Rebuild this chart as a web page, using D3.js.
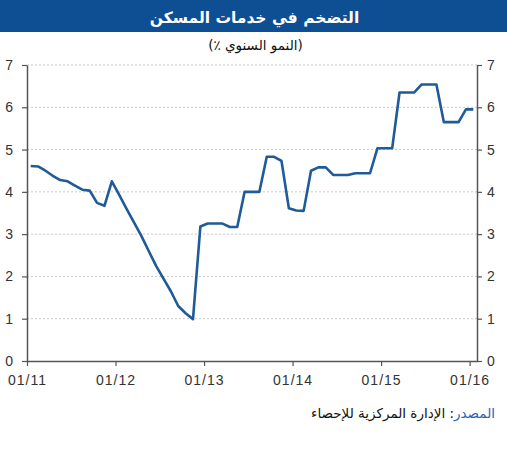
<!DOCTYPE html>
<html><head><meta charset="utf-8">
<script src="https://cdn.jsdelivr.net/npm/d3@7"></script>
<style>body{margin:0;background:#fff}svg{display:block}</style>
</head><body>
<svg id="c" width="507" height="450"></svg>
<script>
const title = "التضخم في خدمات المسكن";
const subtitle = "(النمو السنوي ٪)";
const sourceLabel = "المصدر";
const sourceText = ": الإدارة المركزية للإحصاء";
const xTickLabels = ["01/11","01/12","01/13","01/14","01/15","01/16"];
const xTickMonths = [0,12,24,36,48,60];
const yTicks = [0,1,2,3,4,5,6,7];
// monthly values Jan 2011 .. Jan 2016
const values = [4.61,4.60,4.50,4.38,4.28,4.25,4.15,4.05,4.03,3.74,3.67,4.25,
  3.93,3.60,3.28,2.96,2.60,2.25,1.95,1.65,1.30,1.13,0.99,3.18,
  3.25,3.25,3.25,3.17,3.17,4.00,4.00,4.00,4.83,4.83,4.73,3.61,
  3.56,3.55,4.50,4.58,4.58,4.40,4.40,4.40,4.44,4.44,4.44,5.03,
  5.03,5.03,6.35,6.35,6.35,6.54,6.54,6.54,5.65,5.65,5.65,5.95,5.95];

const svg = d3.select("#c");
const W = 507;
const m = {l:27, r:30, t:65, b:89};
const x = d3.scaleLinear().domain([0,61]).range([m.l, W-m.r]);
const y = d3.scaleLinear().domain([0,7]).range([450-m.b, m.t]);
const font = "'Liberation Sans', Arial, 'DejaVu Sans', sans-serif";

svg.append("rect").attr("x",0).attr("y",0).attr("width",W).attr("height",32).attr("fill","#0e4e93");
svg.append("text").attr("x",W/2+1).attr("y",23).attr("text-anchor","middle")
  .style("direction","rtl").style("unicode-bidi","embed")
  .attr("fill","#fff").attr("font-family","'DejaVu Sans', sans-serif").attr("font-weight","bold")
  .attr("font-size",15.5).text(title);
svg.append("text").attr("x",W/2+2).attr("y",50).attr("text-anchor","middle")
  .style("direction","rtl").style("unicode-bidi","embed")
  .attr("fill","#111").attr("font-family","'DejaVu Sans', sans-serif")
  .attr("font-size",13.5).text(subtitle);

// gridlines
svg.append("g").selectAll("line").data(yTicks.filter(d=>d>0)).join("line")
  .attr("x1",m.l).attr("x2",W-m.r).attr("y1",d=>y(d)).attr("y2",d=>y(d))
  .attr("stroke","#c8c8c8").attr("stroke-width",1).attr("stroke-dasharray","2,2");

const styleAxis = g => {
  g.select(".domain").attr("stroke","#555").attr("stroke-width",1.5);
  g.selectAll(".tick line").attr("stroke","#555").attr("stroke-width",1.2);
  g.selectAll(".tick text").attr("fill","#333").attr("font-family",font).attr("font-size",14);
};
svg.append("g").attr("transform",`translate(${m.l},0)`)
  .call(d3.axisLeft(y).tickValues(yTicks).tickSize(5).tickSizeOuter(0).tickPadding(9).tickFormat(d3.format("d")))
  .call(styleAxis);
svg.append("g").attr("transform",`translate(${W-m.r},0)`)
  .call(d3.axisRight(y).tickValues(yTicks).tickSize(5).tickSizeOuter(0).tickPadding(5).tickFormat(d3.format("d")))
  .call(styleAxis);
svg.append("g").attr("transform",`translate(0,${450-m.b})`)
  .call(d3.axisBottom(x).tickValues(xTickMonths).tickSize(5).tickSizeOuter(0).tickPadding(9)
    .tickFormat((d,i)=>xTickLabels[i]))
  .call(styleAxis)
  .call(g=>g.selectAll(".tick text").attr("letter-spacing","1px"));

svg.append("path").datum(values)
  .attr("fill","none").attr("stroke","#1f5a99").attr("stroke-width",2.6).attr("stroke-linejoin","round")
  .attr("d", d3.line().x((d,i)=>x(i+0.5)).y(d=>y(d)));

const src = svg.append("text").attr("x",495).attr("y",418).attr("text-anchor","start")
  .style("direction","rtl").style("unicode-bidi","embed")
  .attr("font-family","'DejaVu Sans', sans-serif").attr("font-size",13.5);
src.append("tspan").attr("fill","#2a63b0").text(sourceLabel);
src.append("tspan").attr("fill","#111").text(sourceText);
</script>
</body></html>
